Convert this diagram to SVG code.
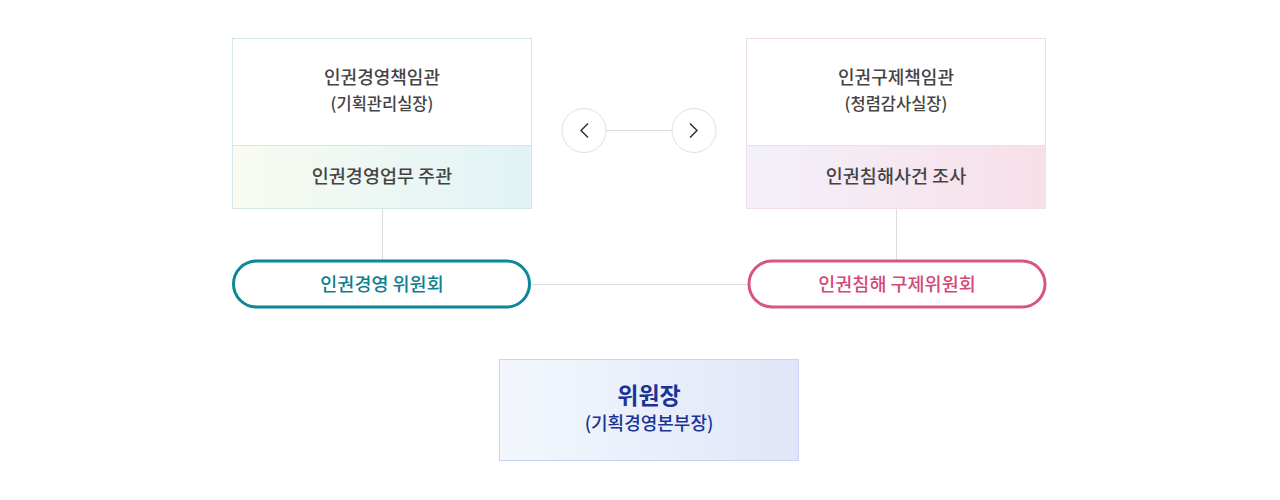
<svg xmlns="http://www.w3.org/2000/svg" width="1280" height="500" viewBox="0 0 1280 500">
<style>
text{font-family:"Noto Sans CJK KR","Noto Sans",sans-serif;text-anchor:middle}
.t1{font-size:18px;fill:#444;font-weight:500}
.t2{font-size:16.5px;fill:#444;font-weight:500}
.t3{font-size:18.5px;fill:#444;font-weight:500}
.ln{stroke:#dcdcdc;stroke-width:1;fill:none}
</style>
<defs>
<linearGradient id="gL" x1="0" y1="0" x2="1" y2="0"><stop offset="0" stop-color="#f8fbf0"/><stop offset="1" stop-color="#e1f3f7"/></linearGradient>
<linearGradient id="gR" x1="0" y1="0" x2="1" y2="0"><stop offset="0" stop-color="#f3f1fb"/><stop offset="1" stop-color="#f8dfe8"/></linearGradient>
<linearGradient id="gB" x1="0" y1="0" x2="1" y2="0"><stop offset="0" stop-color="#f3f7fd"/><stop offset="1" stop-color="#e0e6f8"/></linearGradient>
</defs>
<rect width="1280" height="500" fill="#fff"/>
<g id="connectors">
<line class="ln" x1="382.5" y1="208" x2="382.5" y2="260"/>
<line class="ln" x1="896.5" y1="208" x2="896.5" y2="260"/>
<line class="ln" x1="530" y1="284.5" x2="748" y2="284.5"/>
<line class="ln" x1="606" y1="130.5" x2="672" y2="130.5"/>
</g>
<g id="nav-left">
<circle cx="584" cy="130.5" r="22" fill="#fff" stroke="#e0e0e0"/>
<path d="M588 123.5 L581 130.5 L588 137.5" fill="none" stroke="#333" stroke-width="1.5"/>
</g>
<g id="nav-right">
<circle cx="694" cy="130.5" r="22" fill="#fff" stroke="#e0e0e0"/>
<path d="M690 123.5 L697 130.5 L690 137.5" fill="none" stroke="#333" stroke-width="1.5"/>
</g>
<g id="left-box">
<rect x="232.5" y="38.5" width="299" height="107" fill="#fff" stroke="#d5e7ea"/>
<rect x="232.5" y="145.5" width="299" height="63" fill="url(#gL)" stroke="#d5e7ea"/>
<text class="t1" x="382" y="84">인권경영책임관</text>
<text class="t2" x="382" y="110">(기획관리실장)</text>
<text class="t3" x="382" y="183">인권경영업무 주관</text>
</g>
<g id="right-box">
<rect x="746.5" y="38.5" width="299" height="107" fill="#fff" stroke="#f0dfe6"/>
<rect x="746.5" y="145.5" width="299" height="63" fill="url(#gR)" stroke="#f0dfe6"/>
<text class="t1" x="896" y="84">인권구제책임관</text>
<text class="t2" x="896" y="110">(청렴감사실장)</text>
<text class="t3" x="896" y="183">인권침해사건 조사</text>
</g>
<g id="left-pill">
<rect x="233.5" y="261" width="296" height="46" rx="23" fill="#fff" stroke="#0d8799" stroke-width="3"/>
<text x="382" y="291" style="font-size:18.5px;fill:#0d7f92;font-weight:500">인권경영 위원회</text>
</g>
<g id="right-pill">
<rect x="749" y="261" width="296" height="46" rx="23" fill="#fff" stroke="#d65680" stroke-width="3"/>
<text x="897" y="291" style="font-size:18.5px;fill:#d4497a;font-weight:500">인권침해 구제위원회</text>
</g>
<g id="chair">
<rect x="499.5" y="359.5" width="299" height="101" fill="url(#gB)" stroke="#c9d5f6"/>
<text x="649" y="404" style="font-size:23px;fill:#1a3496;font-weight:700">위원장</text>
<text x="649" y="430" style="font-size:18px;fill:#1a3496;font-weight:500">(기획경영본부장)</text>
</g>
</svg>
